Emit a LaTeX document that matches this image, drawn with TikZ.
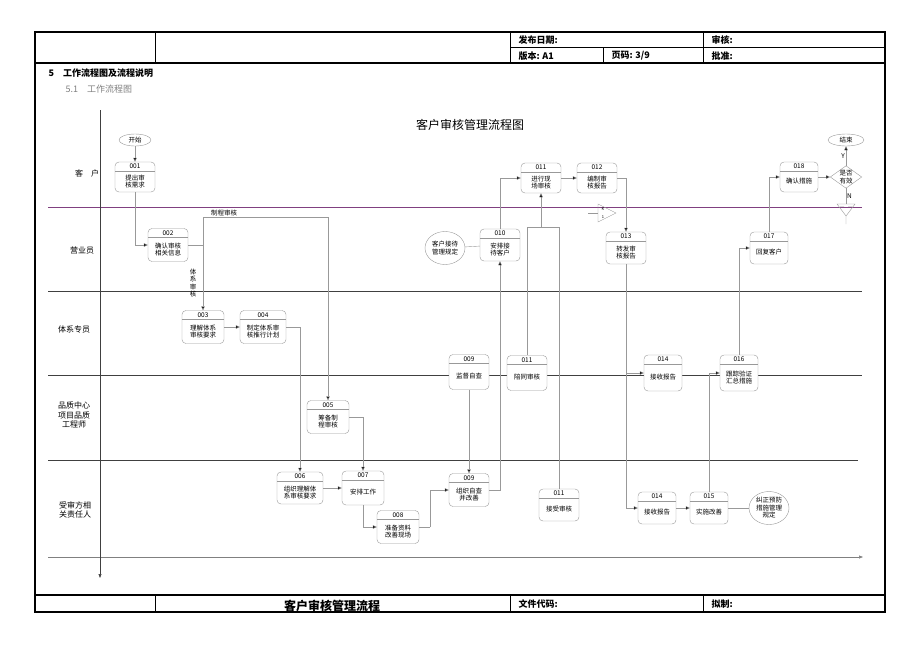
\documentclass[tikz,border=0pt]{standalone}
\usepackage{fontspec}
\setmainfont{Noto Sans CJK SC}
\usetikzlibrary{arrows.meta,shapes.geometric}
\newcommand\ft{\fontsize{6.5}{7.5}\selectfont}
\newcommand\bx[7]{%
\node[bx,minimum width=#4pt,minimum height=#5pt] (#1) at (#2,#3) {};
\node[font=\ft,inner sep=0] at ([yshift=-4.5pt]#1.north) {#6};
\draw[ln] ([yshift=-9pt]#1.north west)--([yshift=-9pt]#1.north east);
\node[font=\ft,align=center,inner sep=0] at ([yshift=-4.5pt]#1.center) {#7};}
\begin{document}
\begin{tikzpicture}[x=1pt,y=-1pt,
 bx/.style={draw=gray!80,fill=white,rounded corners=4pt,inner sep=0},
 ln/.style={draw=gray!80,line width=0.4pt},
 ov/.style={ellipse,draw=gray!80,fill=white,inner sep=0,font=\ft,align=center},
 ar/.style={draw=gray!80,-{Triangle[length=4pt,width=3.5pt,fill=black]}},
 lane/.style={draw=black!75,line width=0.6pt}]
\useasboundingbox (0,0) rectangle (920,651);
% frame
\draw[line width=1.6pt] (35,32) rectangle (885,612);
\draw[line width=1.2pt] (35,63)--(885,63) (35,595)--(885,595);
\draw[line width=0.8pt] (510,47)--(885,47) (155,32)--(155,63) (510,32)--(510,63) (703,32)--(703,63) (603,47)--(603,63);
\draw[line width=0.8pt] (155,595)--(155,612) (510,595)--(510,612) (703,595)--(703,612);
\node[anchor=west,font=\small\bfseries] at (515,40) {发布日期:};
\node[anchor=west,font=\small\bfseries] at (708,40) {审核:};
\node[anchor=west,font=\small\bfseries] at (515,56) {版本: A1};
\node[anchor=west,font=\small\bfseries] at (608,56) {页码: 3/9};
\node[anchor=west,font=\small\bfseries] at (708,56) {批准:};
\node[anchor=west,font=\small\bfseries] at (515,604) {文件代码:};
\node[anchor=west,font=\small\bfseries] at (708,604) {拟制:};
\node[font=\large\bfseries] at (332,606) {客户审核管理流程};
\node[anchor=west,font=\small\bfseries] at (45,73) {5\quad 工作流程图及流程说明};
\node[anchor=west,font=\small,text=gray] at (62,89) {5.1\quad 工作流程图};
\node[font=\large] at (470,125) {客户审核管理流程图};
% lanes
\draw[lane,draw=violet!50!gray] (48,207)--(862,207);
\draw[lane] (48,291)--(862,291) (48,375)--(862,375) (48,460)--(858,460);
\draw[lane,draw=gray,-{Triangle[length=4pt,width=3pt]}] (48,557)--(863,557);
\draw[lane,-{Triangle[length=4pt,width=3pt]}] (100,110)--(100,578);
\node[font=\footnotesize] at (87,173) {客\quad 户};
\node[font=\footnotesize] at (82,250) {营业员};
\node[font=\footnotesize] at (74,329) {体系专员};
\node[font=\footnotesize,align=center,inner sep=0] at (74,415) {品质中心\\项目品质\\工程师};
\node[font=\footnotesize,align=center,inner sep=0] at (75,510) {受审方相\\关责任人};
% nodes
\node[ov,minimum width=32pt,minimum height=12pt] (start) at (135,140) {开始};
\bx{n001}{135}{177}{40}{30}{001}{提出审\\核需求}
\bx{n002}{168}{245}{40}{33}{002}{确认审核\\相关信息}
\bx{n003}{203}{327}{42}{33}{003}{理解体系\\审核要求}
\bx{n004}{263}{327}{46}{33}{004}{制定体系审\\核推行计划}
\bx{n005}{328}{417}{42}{33}{005}{筹备制\\程审核}
\bx{n006}{300}{488}{46}{32}{006}{组织理解体\\系审核要求}
\bx{n007}{363}{488}{42}{34}{007}{安排工作}
\bx{n008}{398}{527}{42}{33}{008}{准备资料\\改善现场}
\bx{n009a}{469}{372}{40}{35}{009}{监督自查}
\bx{n009b}{469}{490}{40}{33}{009}{组织自查\\并改善}
\bx{n010}{500}{245}{40}{32}{010}{安排接\\待客户}
\node[ov,minimum width=40pt,minimum height=33pt] (ov1) at (445,248) {客户接待\\管理规定};
\bx{n011a}{541}{178}{40}{30}{011}{进行现\\场审核}
\bx{n012}{597}{178}{40}{30}{012}{编制审\\核报告}
\bx{n011b}{527}{373}{40}{35}{011}{陪同审核}
\bx{n011c}{559}{505}{40}{32}{011}{接受审核}
\bx{n013}{626}{248}{40}{32}{013}{转发审\\核报告}
\bx{n014a}{663}{373}{38}{36}{014}{接收报告}
\bx{n014b}{657}{508}{38}{32}{014}{接收报告}
\bx{n015}{709}{508}{38}{32}{015}{实施改善}
\bx{n016}{739}{373}{38}{36}{016}{跟踪验证\\汇总措施}
\bx{n017}{769}{248}{38}{32}{017}{回复客户}
\bx{n018}{799}{177}{38}{30}{018}{确认措施}
\node[ov,minimum width=40pt,minimum height=33pt] (ov2) at (769,508) {纠正预防\\措施管理\\规定};
\node[diamond,draw=gray!80,fill=white,inner sep=0,minimum width=30pt,minimum height=22pt,font=\ft,align=center,aspect=1.4] (dia) at (846,177) {是否\\有效};
\node[ov,minimum width=36pt,minimum height=12pt] (end) at (846,140) {结束};
% triangles
\draw[ln] (588,213)--(598,213);
\draw[ln] (598,204)--(598,222)--(616,213)--cycle;
\node[font=\fontsize{4}{4}\selectfont,inner sep=0] at (603,209) {K};
\node[font=\fontsize{4}{4}\selectfont,inner sep=0] at (603,217) {1};
\coordinate (tri) at (846,204);
\draw[ln] (837,204)--(855,204)--(846,216)--cycle (846,216)--(846,224) (840,206.5)--(844,206.5) (848,206.5)--(852,206.5);
% edges
\draw[ar] (start)--(n001);
\draw[ar] (n001.south) |- (n002.west);
\coordinate (c2) at (203,245);
\coordinate (c2b) at (203,217);
\draw[ln] (n002.east)--(c2);
\draw[ar] (c2)--(n003.north);
\draw[ar] (c2)--(c2b) -| (n005.north);
\node[font=\ft,anchor=south west,inner sep=1pt] at (210,217) {制程审核};
\node[font=\ft,align=center,inner sep=0] at (193,283) {体\\系\\审\\核};
\draw[ar] (n003)--(n004);
\draw[ar] (n004.east) -| (n006.north);
\draw[ar] (n005.east) -| (n007.north);
\draw[ar] (n006)--(n007);
\draw[ar] (n007.south) |- (n008.west);
\coordinate (c8) at (430,527);
\draw[ln] (n008.east)--(c8);
\draw[ar] (c8) |- (n009b.west);
\draw[ar] (n009a)--(n009b);
\draw[ar] (n009b.east) -| (n010.south);
\draw[ln] (ov1)--(n010);
\draw[ar] (n010.north) |- (n011a.west);
\draw[ar] (n011a)--(n012);
\draw[ar] (n012.east) -| (n013.north);
\coordinate (r1) at (527,227);
\coordinate (r2) at (559,227);
\coordinate (r3) at (541,227);
\draw[ln] (n011b.north)--(r1)--(r2)--(n011c.north);
\draw[ar] (r3)--(n011a.south);
\draw[ar] (n013.south) |- (n014a.west);
\draw[ar] (n013.south) |- (n014b.west);
\draw[ar] (n014b)--(n015);
\draw[ln] (n015)--(ov2);
\draw[ar] (n015.north) |- (n016.west);
\draw[ar] (n016.north) |- (n017.west);
\draw[ar] (n017.north) |- (n018.west);
\draw[ar] (n018)--(dia);
\draw[ar] (dia)--(end) node[midway,left,font=\ft,inner sep=1pt] {Y};
\draw[ln] (dia.south)--(tri) node[midway,right,font=\ft,inner sep=1pt] {N};
\end{tikzpicture}
\end{document}
